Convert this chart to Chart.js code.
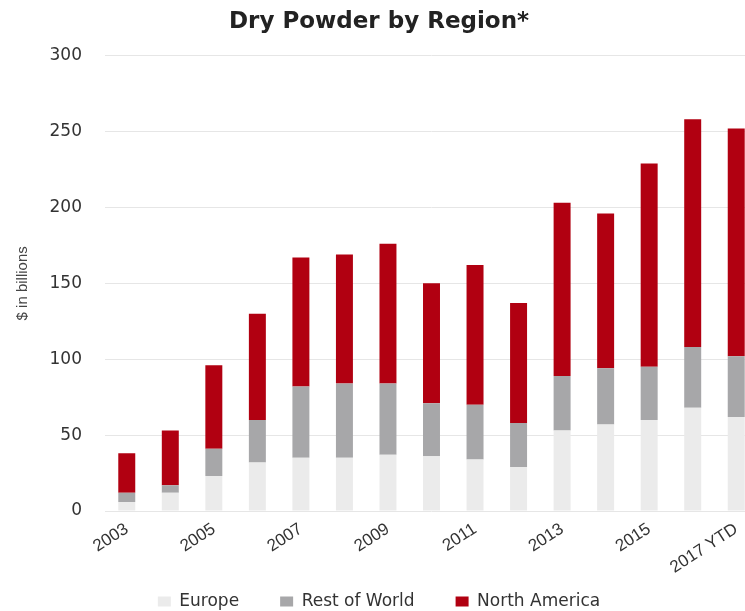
<!DOCTYPE html>
<html>
<head>
<meta charset="utf-8">
<title>Dry Powder by Region*</title>
<script src="https://cdn.jsdelivr.net/npm/chart.js@4.4.1/dist/chart.umd.min.js"></script>
<style>
    html, body { margin: 0; padding: 0; overflow: hidden; background: #fff; }
    #wrap { width: 760px; height: 620px; position: relative; }
</style>
</head>
<body>
<div id="wrap"><canvas id="dryPowderCanvas"></canvas></div>
<script>
// $ in billions, stacked Europe -> Rest of World -> North America
var years = ["2003", "2004", "2005", "2006", "2007", "2008", "2009", "2010",
             "2011", "2012", "2013", "2014", "2015", "2016", "2017 YTD"];
var europe = [6, 12, 23, 32, 35, 35, 37, 36, 34, 29, 53, 57, 60, 68, 62];
var restOfWorld = [6, 5, 18, 28, 47, 49, 47, 35, 36, 29, 36, 37, 35, 40, 40];
var northAmerica = [26, 36, 55, 70, 85, 85, 92, 79, 92, 79, 114, 102, 134, 150, 150];
var yTicks = [0, 50, 100, 150, 200, 250, 300];

/**
 * Builds the stacked bar chart of dry powder per region
 * @return {void}
 */
function buildDryPowderChart()
{
    var canvas = document.getElementById("dryPowderCanvas");
    var ctx = canvas.getContext("2d");

    var dat = {
        labels: years,
        datasets: [
            {
                label: "Europe",
                backgroundColor: "#ebebeb",
                data: europe
            },
            {
                label: "Rest of World",
                backgroundColor: "#a7a7a9",
                data: restOfWorld
            },
            {
                label: "North America",
                backgroundColor: "#b10011",
                data: northAmerica
            }
        ]
    };

    var options = {
        responsive: true,
        maintainAspectRatio: false,
        animation: false,
        layout: { padding: { left: 0, right: 2, top: 0, bottom: 0 } },
        datasets: {
            bar: { categoryPercentage: 1, barPercentage: 0.39, borderWidth: 0 }
        },
        plugins: {
            tooltip: { enabled: false },
            title: {
                display: true,
                text: "Dry Powder by Region*",
                color: "#222",
                font: { family: "DejaVu Sans", size: 23, weight: "bold" },
                padding: { top: 8, bottom: 20 }
            },
            legend: {
                position: "bottom",
                labels: {
                    color: "#333",
                    boxWidth: 13,
                    boxHeight: 10,
                    padding: 14,
                    font: { family: "DejaVu Sans", size: 17 },
                    // widen the gap between items without growing the legend's height
                    generateLabels: function (chart) {
                        var items = Chart.defaults.plugins.legend.labels.generateLabels(chart);
                        items.forEach(function (item, i) {
                            if (i < items.length - 1) {
                                item.text = item.text + "     ";
                            }
                        });
                        return items;
                    }
                }
            }
        },
        scales: {
            x: {
                stacked: true,
                grid: { display: false, drawTicks: false },
                border: { display: false },
                afterFit: function (scale) { scale.height = 68; },
                ticks: {
                    autoSkip: false,
                    minRotation: 33,
                    maxRotation: 33,
                    padding: 8,
                    color: "#333",
                    font: { family: "'Liberation Sans'", size: 17 },
                    // only every other year gets a label
                    callback: function (val, i) { return i % 2 === 0 ? years[i] : ""; }
                }
            },
            y: {
                stacked: true,
                min: yTicks[0],
                max: yTicks[yTicks.length - 1],
                afterFit: function (scale) { scale.width = 105; },
                afterBuildTicks: function (scale) {
                    scale.ticks = yTicks.map(function (v) { return { value: v }; });
                },
                grid: { color: "#e6e6e6", lineWidth: 1, drawTicks: false },
                border: { display: false },
                ticks: {
                    padding: 23,
                    color: "#333",
                    font: { family: "DejaVu Sans", size: 17 }
                },
                title: {
                    display: true,
                    text: "$ in billions",
                    color: "#444",
                    padding: { top: 14, bottom: 0 },
                    font: { family: "'Liberation Sans'", size: 15 }
                }
            }
        }
    };

    var myNewChart = new Chart(ctx, {
        type: "bar",
        data: dat,
        options: options
    });
}

buildDryPowderChart();
</script>
</body>
</html>
